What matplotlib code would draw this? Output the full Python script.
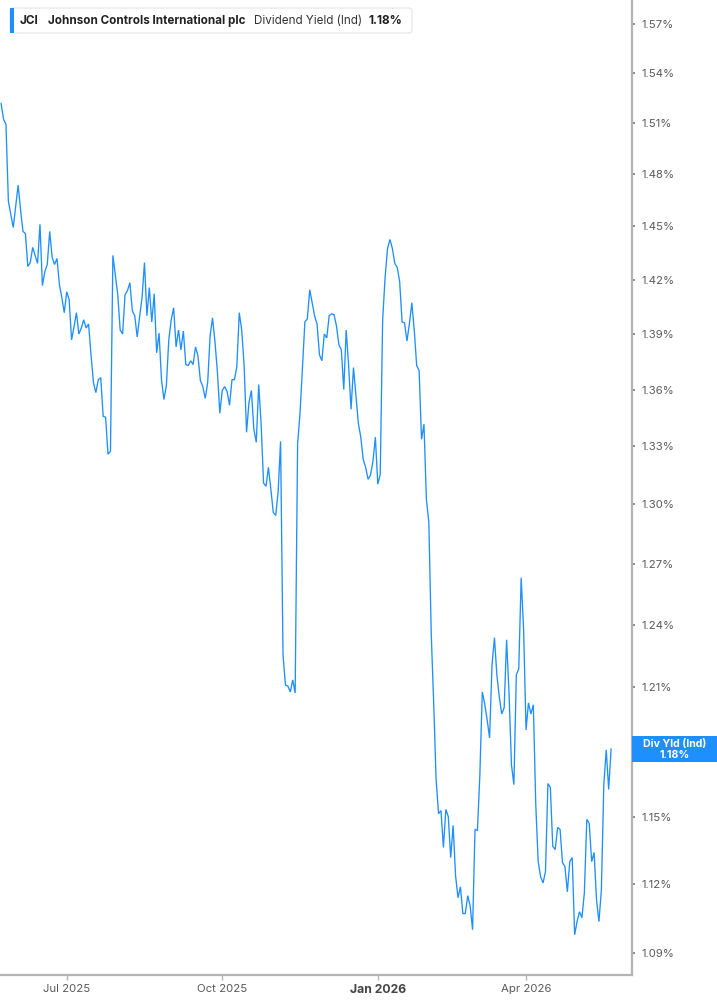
import numpy as np
import pandas as pd
import matplotlib
matplotlib.use('Agg')
import matplotlib.pyplot as plt
from matplotlib.patches import Rectangle, FancyBboxPatch
from matplotlib.ticker import NullLocator, FixedLocator, FuncFormatter

plt.rcParams['font.family'] = ['Inter', 'DejaVu Sans']

ticker = 'JCI'
company = 'Johnson Controls International plc'
metric = 'Dividend Yield (Ind)'
badge = 'Div Yld (Ind)'

# NYSE holidays in the window
holidays = ['2025-05-26', '2025-06-19', '2025-07-04', '2025-09-01', '2025-11-27',
            '2025-12-25', '2026-01-01', '2026-01-19', '2026-02-16', '2026-04-03']

# dividend yield (%), one value per trading day from 2025-05-21
yld = [1.5218, 1.5124, 1.5094, 1.4644, 1.4569, 1.4494, 1.4615, 1.4737, 1.4598, 1.4472,
       1.4460, 1.4274, 1.4296, 1.4381, 1.4336, 1.4291, 1.4512, 1.4167, 1.4245, 1.4285,
       1.4472, 1.4325, 1.4285, 1.4319, 1.4172, 1.4100, 1.4017, 1.4133, 1.4089, 1.3868,
       1.3939, 1.4017, 1.3900, 1.3933, 1.3978, 1.3933, 1.3955, 1.3787, 1.3637, 1.3584,
       1.3653, 1.3664, 1.3458, 1.3453, 1.3259, 1.3274, 1.4336, 1.4228, 1.4117, 1.3922,
       1.3900, 1.4117, 1.4139, 1.4183, 1.4028, 1.4000, 1.3884, 1.3995, 1.4100, 1.4296,
       1.4000, 1.4156, 1.3966, 1.4122, 1.3798, 1.3905, 1.3653, 1.3547, 1.3621, 1.3868,
       1.3978, 1.4044, 1.3830, 1.3922, 1.3814, 1.3916, 1.3734, 1.3729, 1.3755, 1.3734,
       1.3830, 1.3782, 1.3648, 1.3616, 1.3553, 1.3637, 1.3889, 1.3989, 1.3857, 1.3696,
       1.3474, 1.3595, 1.3616, 1.3589, 1.3516, 1.3653, 1.3653, 1.3723, 1.4017, 1.3922,
       1.3729, 1.3374, 1.3532, 1.3595, 1.3390, 1.3321, 1.3627, 1.3416, 1.3109, 1.3093,
       1.3191, 1.3078, 1.2959, 1.2944, 1.3067, 1.3326, 1.2255, 1.2110, 1.2105, 1.2077,
       1.2134, 1.2072, 1.3311, 1.3474, 1.3723, 1.3966, 1.3983, 1.4144, 1.4072, 1.4000,
       1.3955, 1.3787, 1.3755, 1.3900, 1.3879, 1.4000, 1.4011, 1.4006, 1.3944, 1.3841,
       1.3814, 1.3600, 1.3922, 1.3729, 1.3495, 1.3718, 1.3568, 1.3421, 1.3348, 1.3233,
       1.3191, 1.3129, 1.3150, 1.3222, 1.3348, 1.3104, 1.3155, 1.3978, 1.4211, 1.4375,
       1.4426, 1.4375, 1.4291, 1.4268, 1.4189, 1.3966, 1.3961, 1.3862, 1.3955, 1.4072,
       1.3922, 1.3729, 1.3702, 1.3337, 1.3416, 1.3026, 1.2909, 1.2352, 1.2025, 1.1668,
       1.1513, 1.1527, 1.1361, 1.1532, 1.1500, 1.1316, 1.1460, 1.1236, 1.1139, 1.1187,
       1.1070, 1.1070, 1.1148, 1.1104, 1.1000, 1.1442, 1.1437, 1.1691, 1.2077, 1.2020,
       1.1945, 1.1861, 1.2206, 1.2337, 1.2158, 1.2053, 1.1973, 1.2002, 1.2327, 1.2072,
       1.1736, 1.1645, 1.2158, 1.2187, 1.2631, 1.2376, 1.1898, 1.2025, 1.1973, 1.2016,
       1.1554, 1.1298, 1.1231, 1.1204, 1.1254, 1.1650, 1.1632, 1.1366, 1.1352, 1.1451,
       1.1442, 1.1294, 1.1276, 1.1165, 1.1298, 1.1316, 1.0978, 1.1035, 1.1078, 1.1052,
       1.1161, 1.1487, 1.1469, 1.1298, 1.1339, 1.1130, 1.1035, 1.1174, 1.1645, 1.1805,
       1.1623, 1.1809]

yticks = [1.09, 1.12, 1.15, 1.18, 1.21, 1.24, 1.27, 1.30, 1.33, 1.36, 1.39, 1.42,
          1.45, 1.48, 1.51, 1.54, 1.57]
tick_months = ['2025-07', '2025-10', '2026-01', '2026-04']

dates = pd.bdate_range('2025-05-21', periods=len(yld), freq='C', holidays=holidays)
xs = np.arange(len(dates))
months = dates.strftime('%Y-%m')
xt = [int(np.argmax(months == m)) for m in tick_months]
xl = [dates[i].strftime('%b %Y') for i in xt]

W, H = 717, 1005
fig = plt.figure(figsize=(W / 100, H / 100), dpi=100)
ax = fig.add_axes([0, 1 - 975 / H, 632 / W, 975 / H])

blue = '#1e8fff'
grey = '#b4b4b4'
ax.plot(xs, yld, color=blue, lw=0.95, solid_joinstyle='miter')

ax.set_yscale('log')
ax.set_ylim(1.0806, 1.5849)
ax.set_xlim(-0.45, 259.6)
ax.yaxis.set_major_locator(FixedLocator(yticks))
ax.yaxis.set_minor_locator(NullLocator())
ax.yaxis.set_major_formatter(FuncFormatter(lambda v, p: f'{v:.2f}%'))
ax.yaxis.tick_right()
ax.set_xticks(xt)
ax.set_xticklabels(xl)

for s in ['top', 'left']:
    ax.spines[s].set_visible(False)
for s in ['right', 'bottom']:
    ax.spines[s].set_color(grey)
    ax.spines[s].set_linewidth(1.6)

ax.tick_params(axis='y', which='major', direction='out', length=2.5, width=1.2,
               color='#777777', labelsize=8.2, labelcolor='#5a5a5a', pad=4.5)
ax.tick_params(axis='x', which='major', direction='out', length=3.5, width=1,
               color=grey, labelsize=8.2, labelcolor='#5a5a5a', pad=3)
jan = ax.get_xticklabels()[2]
jan.set_fontweight('bold')
jan.set_color('#444444')
jan.set_fontsize(8.8)

# legend box at top-left
fig.patches.append(FancyBboxPatch((10 / W, 1 - 33 / H), 402 / W, 25 / H,
                                  boxstyle='round,pad=0,rounding_size=0.004',
                                  transform=fig.transFigure, facecolor='white',
                                  edgecolor='#e4e4e4', lw=0.8, zorder=5))
fig.patches.append(Rectangle((10 / W, 1 - 33 / H), 3.5 / W, 25 / H,
                             transform=fig.transFigure, facecolor=blue,
                             edgecolor='none', zorder=6))
ty = 1 - 21 / H
fig.text(20 / W, ty, ticker, fontsize=8.5, fontweight='bold', color='#222222',
         va='center', zorder=7)
fig.text(48 / W, ty, company, fontsize=8.4, fontweight='bold', color='#222222',
         va='center', zorder=7)
fig.text(254 / W, ty, metric, fontsize=8.4, color='#333333', va='center', zorder=7)
fig.text(369 / W, ty, f'{yld[-1]:.2f}%', fontsize=8.6, fontweight='bold',
         color='#222222', va='center', zorder=7)

# last value badge on the right axis (covers the 1.18% tick label, as in the source)
px, py = ax.transData.transform((xs[-1], yld[-1]))
fig.patches.append(Rectangle((632 / W, (py - 13) / H), 85 / W, 26 / H,
                             transform=fig.transFigure, facecolor=blue,
                             edgecolor='none', zorder=5))
fig.text(674.5 / W, (py + 5.5) / H, badge, fontsize=7.6, fontweight='bold',
         color='white', ha='center', va='center', zorder=7)
fig.text(674.5 / W, (py - 6) / H, f'{yld[-1]:.2f}%', fontsize=7.6, fontweight='bold',
         color='white', ha='center', va='center', zorder=7)

fig.savefig('out.png', dpi=100)
